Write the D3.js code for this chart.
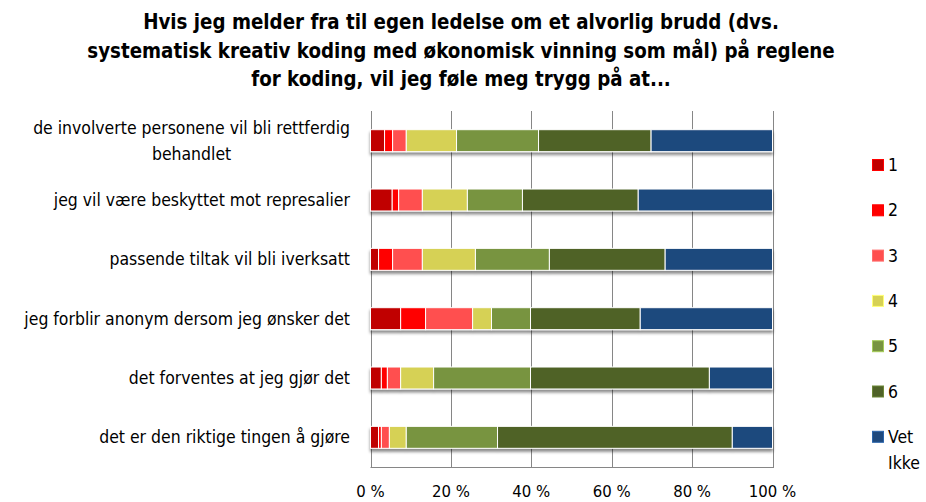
<!DOCTYPE html>
<html><head><meta charset="utf-8">
<script src="https://cdn.jsdelivr.net/npm/d3@7"></script>
<style>body{margin:0;background:#fff}svg{display:block}</style>
</head><body>
<svg id="c" width="926" height="502"></svg>
<script>
const titleLines = ["Hvis jeg melder fra til egen ledelse om et alvorlig brudd (dvs.",
  "systematisk kreativ koding med økonomisk vinning som mål) på reglene",
  "for koding, vil jeg føle meg trygg på at..."];
const categories = [
  ["de involverte personene vil bli rettferdig", "behandlet"],
  ["jeg vil være beskyttet mot represalier"],
  ["passende tiltak vil bli iverksatt"],
  ["jeg forblir anonym dersom jeg ønsker det"],
  ["det forventes at jeg gjør det"],
  ["det er den riktige tingen å gjøre"]
];
const seriesNames = ["1","2","3","4","5","6","Vet Ikke"];
const seriesColors = ["#C00000","#FF0000","#FF4F4F","#D6D155","#789440","#4F6228","#1F497D"];
const s1 = [3.5, 5.4, 2.0, 7.5, 2.7, 2.0];
const s2 = [2.0, 1.6, 3.5, 6.2, 1.5, 0.7];
const s3 = [3.4, 5.9, 7.4, 11.7, 3.3, 2.0];
const s4 = [12.5, 11.2, 13.2, 4.7, 8.2, 4.2];
const s5 = [20.4, 13.7, 18.4, 9.7, 24.1, 22.7];
const s6 = [28.0, 28.8, 28.8, 27.3, 44.5, 58.4];
const sVet = [30.2, 33.4, 26.7, 32.9, 15.7, 10.0];
const tickValues = [0, 20, 40, 60, 80, 100];

const series = [s1, s2, s3, s4, s5, s6, sVet];
const svg = d3.select("#c");
const font = "'Liberation Sans Narrow', 'DejaVu Sans Condensed', 'Liberation Sans', sans-serif";

// helper: font size so that a string has a target width
function fitSize(str, target, family, weight) {
  const t = svg.append("text").style("font-family", family).style("font-weight", weight || "normal")
    .style("font-size", "100px").text(str);
  const w = t.node().getComputedTextLength();
  t.remove();
  return 100 * target / w;
}
const titleSize = fitSize(titleLines[1], 748, font, "bold");
const labelSize = fitSize(categories[0][0], 317, font);
const tickSize = labelSize * 0.95;
const legendSize = labelSize;

// title
svg.append("g").selectAll("text").data(titleLines).join("text")
  .attr("x", 461).attr("y", (d, i) => 29 + i * 28.5)
  .attr("text-anchor", "middle")
  .style("font-family", font).style("font-weight", "bold").style("font-size", titleSize + "px")
  .attr("fill", "#000").text(d => d);

const x = d3.scaleLinear().domain([0, 100]).range([370.5, 772.5]);
const y = d3.scaleBand().domain(d3.range(categories.length)).range([111, 467]).paddingInner(0.63).paddingOuter(0.315);

const defs = svg.append("defs");
const f = defs.append("filter").attr("id", "sh").attr("x", "-5%").attr("y", "-30%").attr("width", "110%").attr("height", "180%");
f.append("feDropShadow").attr("dx", 0).attr("dy", 3).attr("stdDeviation", 1.6).attr("flood-color", "#000").attr("flood-opacity", 0.45);

// gridlines
svg.append("g").selectAll("line").data(tickValues).join("line")
  .attr("x1", d => Math.round(x(d)) + 0.5).attr("x2", d => Math.round(x(d)) + 0.5)
  .attr("y1", 111).attr("y2", 468)
  .attr("stroke", "#868686").attr("stroke-width", 1);
svg.append("line").attr("x1", 370.5).attr("x2", 773).attr("y1", 467.5).attr("y2", 467.5)
  .attr("stroke", "#868686");

// stacked data
const stacked = categories.map((c, i) => {
  let acc = 0;
  return series.map((s, k) => { const v = s[i]; const r = {i, k, x0: acc, x1: acc + v}; acc += v; return r; });
});

const bars = svg.append("g").selectAll("g").data(stacked).join("g").attr("filter", "url(#sh)");
bars.selectAll("rect").data(d => d).join("rect")
  .attr("x", d => x(d.x0)).attr("width", d => x(d.x1) - x(d.x0))
  .attr("y", d => y(d.i)).attr("height", y.bandwidth())
  .attr("fill", d => seriesColors[d.k])
  .attr("stroke", "#fff").attr("stroke-width", 1);

// axis labels
svg.append("g").selectAll("text").data(tickValues).join("text")
  .attr("x", d => x(d)).attr("y", 497)
  .attr("text-anchor", "middle")
  .style("font-family", font).style("font-size", tickSize + "px").attr("fill", "#000")
  .text(d => d + " %");

// category labels
const cg = svg.append("g");
categories.forEach((lines, i) => {
  const cy = y(i) + y.bandwidth() / 2;
  const g = cg.append("g");
  const n = lines.length;
  const ts = lines.map((l, j) => g.append("text")
    .attr("y", cy + (j - (n - 1) / 2) * 26 + 6)
    .style("font-family", font).style("font-size", labelSize + "px").attr("fill", "#000").text(l));
  const widths = ts.map(t => t.node().getComputedTextLength());
  const maxW = d3.max(widths);
  const center = 350 - maxW / 2;
  ts.forEach(t => t.attr("x", center).attr("text-anchor", "middle"));
});

// legend
const lg = svg.append("g");
seriesNames.forEach((name, k) => {
  const cy = 165 + k * 45.3;
  lg.append("rect").attr("x", 872.5).attr("y", cy - 5.5).attr("width", 11).attr("height", 11)
    .attr("fill", seriesColors[k]).attr("stroke", d3.color(seriesColors[k]).brighter(0.9)).attr("stroke-width", 1);
  const parts = name.split(" ");
  parts.forEach((p, j) => lg.append("text").attr("x", 888).attr("y", cy + 6 + j * 26)
    .style("font-family", font).style("font-size", legendSize + "px").attr("fill", "#000").text(p));
});
</script>
</body></html>
